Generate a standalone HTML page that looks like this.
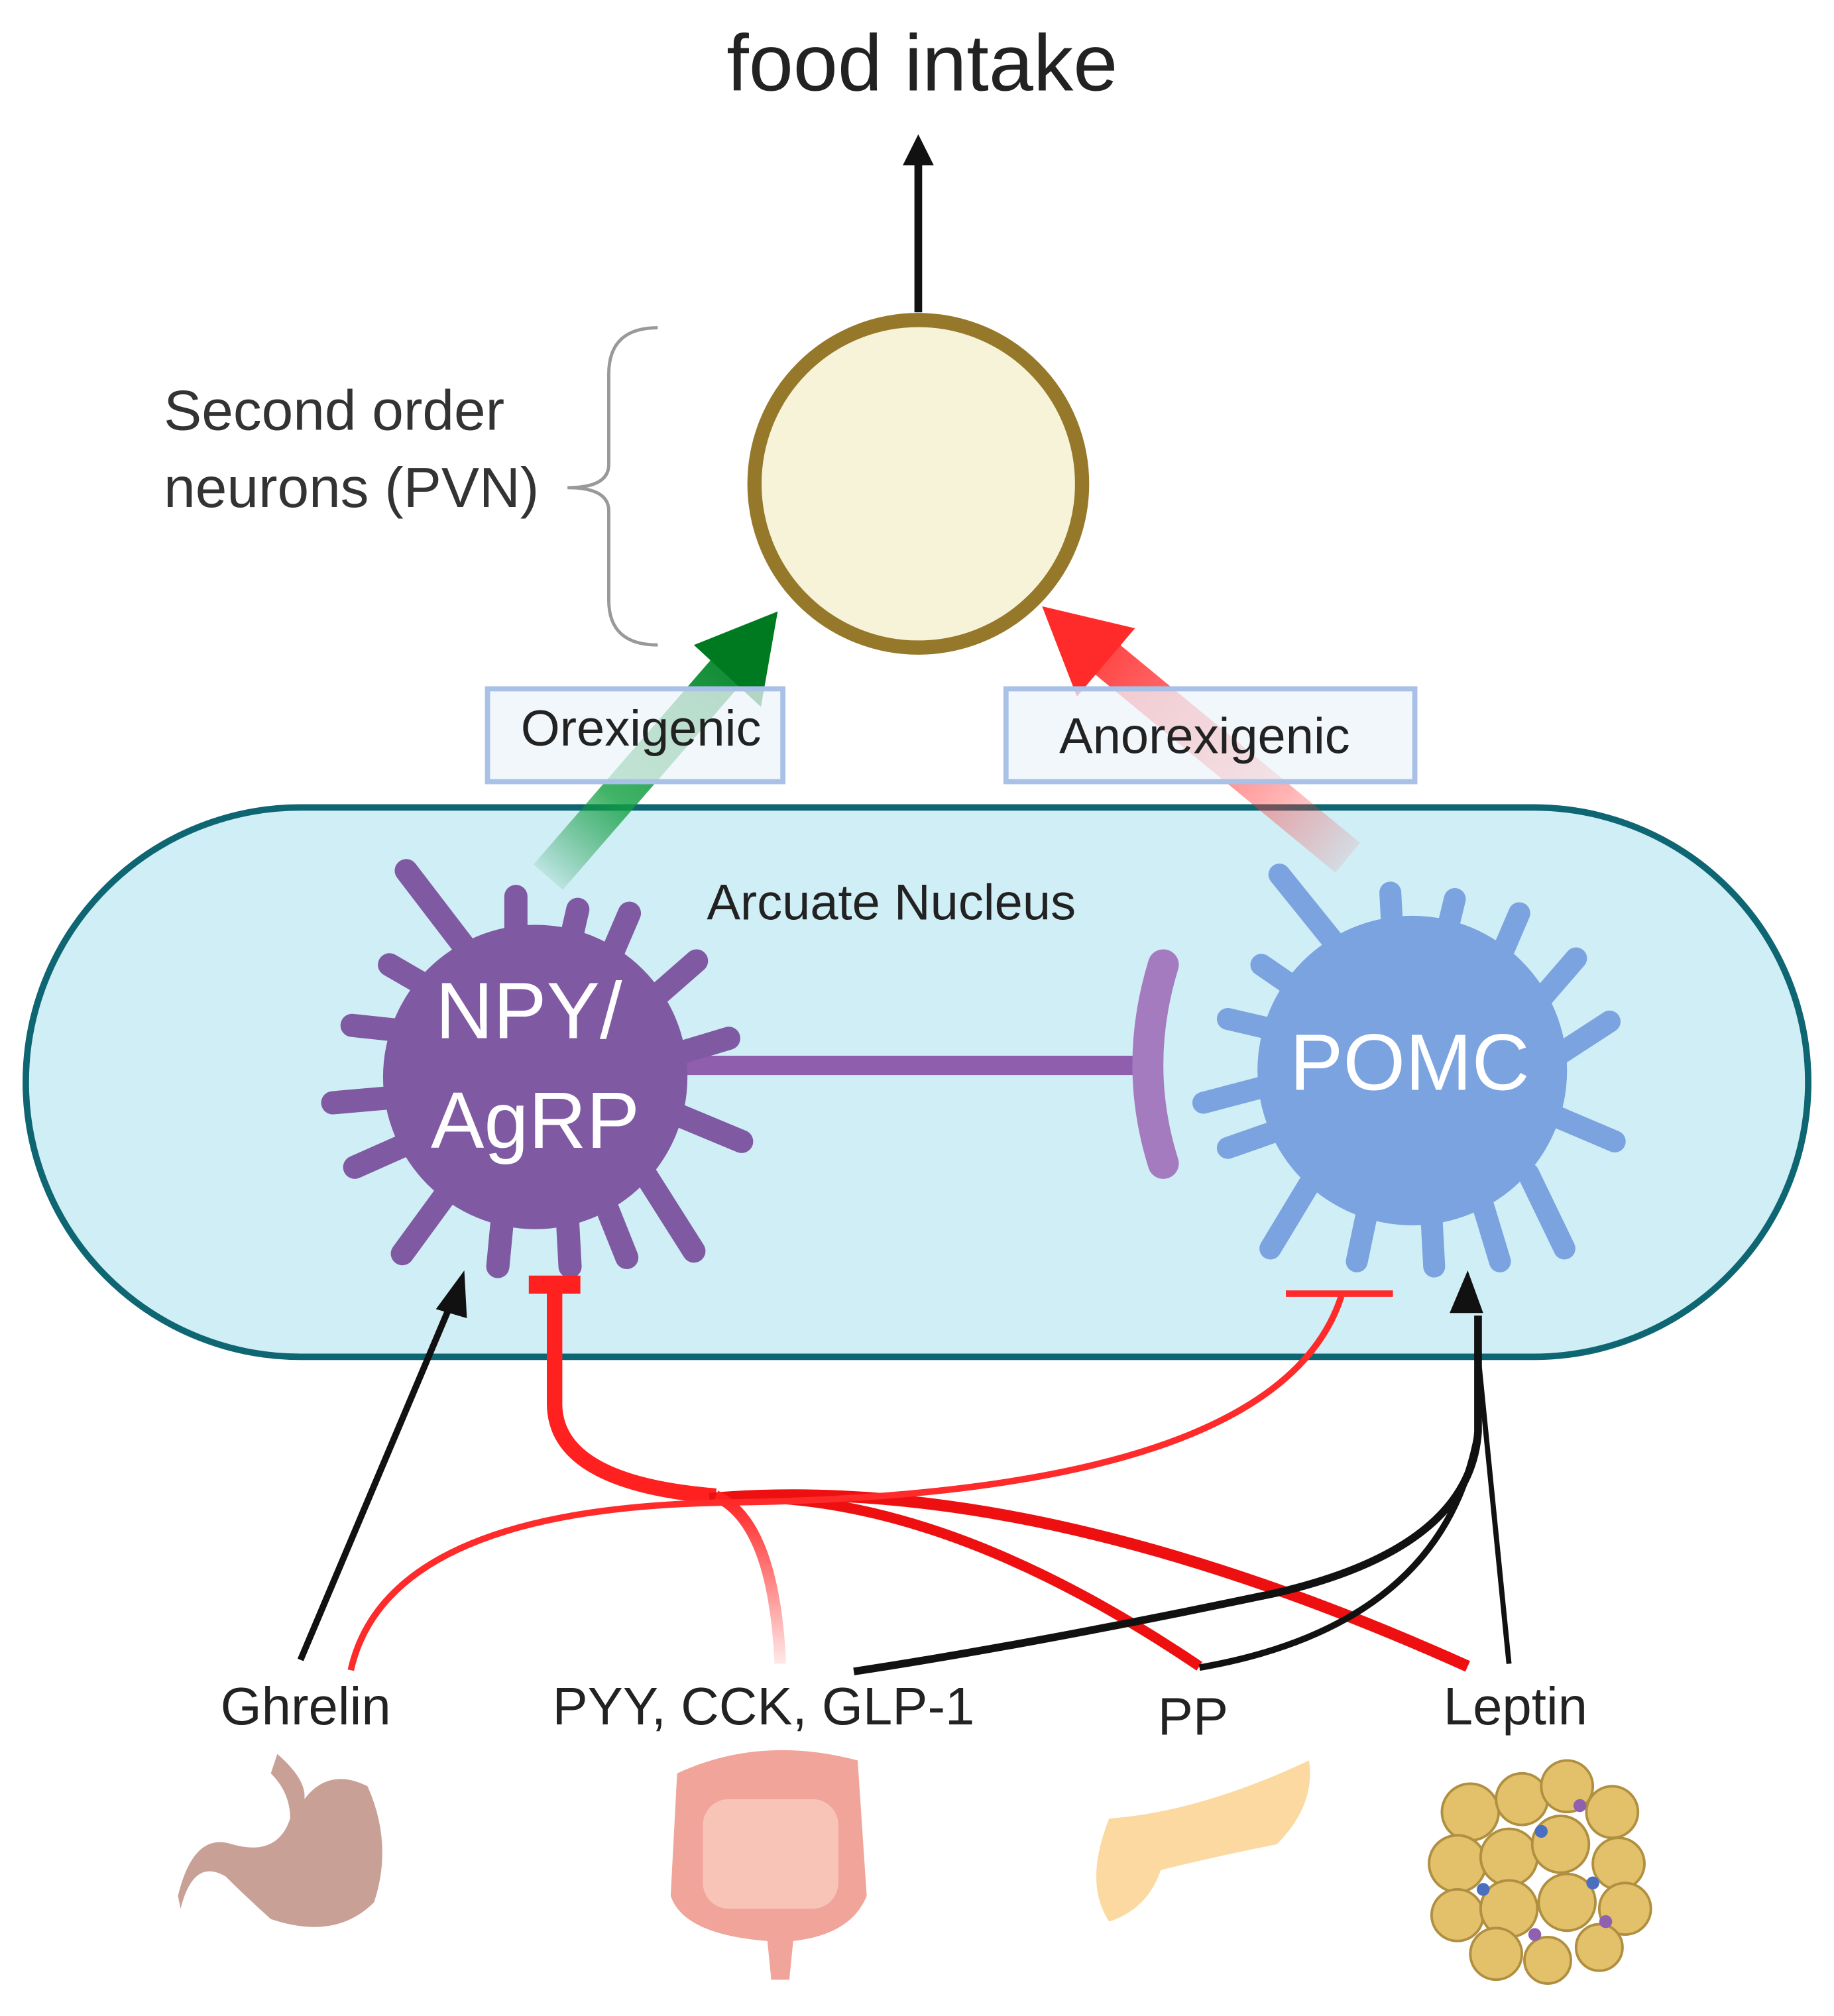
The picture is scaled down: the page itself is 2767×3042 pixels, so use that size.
<!DOCTYPE html>
<html><head><meta charset="utf-8"><style>
html,body{margin:0;padding:0;background:#fff;}
svg{display:block;}
text{font-family:"Liberation Sans",sans-serif;}
</style></head><body>
<svg width="2767" height="3042" viewBox="0 0 1422 1563" xmlns="http://www.w3.org/2000/svg">
<defs>
<linearGradient id="gg" x1="425" y1="680" x2="600" y2="478" gradientUnits="userSpaceOnUse">
<stop offset="0" stop-color="#008a2a" stop-opacity="0.1"/><stop offset="0.3" stop-color="#10a040" stop-opacity="0.8"/><stop offset="1" stop-color="#007a20"/></linearGradient>
<linearGradient id="rg" x1="1045" y1="665" x2="810" y2="470" gradientUnits="userSpaceOnUse">
<stop offset="0" stop-color="#ff3030" stop-opacity="0.1"/><stop offset="0.4" stop-color="#ff4040" stop-opacity="0.6"/><stop offset="1" stop-color="#ff2020"/></linearGradient>
<linearGradient id="fadeR" x1="0" y1="1160" x2="0" y2="1290" gradientUnits="userSpaceOnUse">
<stop offset="0" stop-color="#ff2020"/><stop offset="1" stop-color="#ff2020" stop-opacity="0.1"/></linearGradient>
</defs>

<text x="715" y="70" font-size="62" text-anchor="middle" fill="#222">food intake</text>
<line x1="712" y1="242" x2="712" y2="125" stroke="#111" stroke-width="6"/>
<polygon points="712,104 700,128 724,128" fill="#111"/>

<circle cx="712" cy="375" r="127" fill="#f7f3d8" stroke="#96782a" stroke-width="11"/>

<path d="M510,254 Q472,254 472,290 L472,360 Q472,378 440,378 Q472,378 472,396 L472,465 Q472,500 510,500" fill="none" stroke="#999" stroke-width="2.5"/>
<text x="127" y="333" font-size="44" fill="#333">Second order</text>
<text x="127" y="393" font-size="44" fill="#333">neurons (PVN)</text>

<rect x="20" y="626" width="1382" height="426" rx="213" ry="213" fill="#d0eef6" stroke="#0e6672" stroke-width="5"/>

<line x1="425" y1="680" x2="568" y2="515" stroke="url(#gg)" stroke-width="30"/>
<polygon points="603,474 538,500 590,548" fill="#007a20"/>
<line x1="1045" y1="665" x2="845" y2="500" stroke="url(#rg)" stroke-width="30"/>
<polygon points="808,470 880,487 835,540" fill="#ff2a2a"/>

<rect x="378" y="534" width="229" height="72" fill="#eef4fb" fill-opacity="0.75" stroke="#a9c1e6" stroke-width="4"/>
<text x="497" y="578" font-size="39" text-anchor="middle" fill="#222">Orexigenic</text>
<rect x="780" y="534" width="317" height="72" fill="#eef4fb" fill-opacity="0.75" stroke="#a9c1e6" stroke-width="4"/>
<text x="934" y="584" font-size="39" text-anchor="middle" fill="#222">Anorexigenic</text>

<text x="548" y="713" font-size="39" fill="#222">Arcuate Nucleus</text>

<line x1="530" y1="826" x2="880" y2="826" stroke="#8f5fae" stroke-width="15"/>
<path d="M902,748 Q878,826 902,902" fill="none" stroke="#a57bbf" stroke-width="24" stroke-linecap="round"/>

<g fill="#7f5aa2">
<circle cx="415" cy="835" r="118"/>
<g stroke="#7f5aa2" stroke-width="18" stroke-linecap="round">
<line x1="380" y1="760" x2="315" y2="675"/>
<line x1="400" y1="740" x2="400" y2="695"/>
<line x1="440" y1="740" x2="448" y2="705"/>
<line x1="470" y1="750" x2="488" y2="708"/>
<line x1="500" y1="780" x2="540" y2="745"/>
<line x1="515" y1="820" x2="565" y2="805"/>
<line x1="515" y1="860" x2="575" y2="885"/>
<line x1="500" y1="910" x2="538" y2="970"/>
<line x1="470" y1="935" x2="486" y2="975"/>
<line x1="440" y1="945" x2="442" y2="982"/>
<line x1="390" y1="940" x2="386" y2="982"/>
<line x1="350" y1="920" x2="312" y2="972"/>
<line x1="320" y1="885" x2="275" y2="905"/>
<line x1="315" y1="850" x2="258" y2="855"/>
<line x1="320" y1="800" x2="273" y2="795"/>
<line x1="340" y1="770" x2="302" y2="748"/>
</g></g>
<text x="410" y="805" font-size="62" text-anchor="middle" fill="#fff">NPY/</text>
<text x="415" y="890" font-size="62" text-anchor="middle" fill="#fff">AgRP</text>

<g fill="#7aa3e0">
<circle cx="1095" cy="830" r="120"/>
<g stroke="#7aa3e0" stroke-width="17" stroke-linecap="round">
<line x1="1050" y1="750" x2="992" y2="678"/>
<line x1="1080" y1="730" x2="1078" y2="692"/>
<line x1="1120" y1="730" x2="1128" y2="697"/>
<line x1="1160" y1="750" x2="1178" y2="708"/>
<line x1="1190" y1="780" x2="1222" y2="743"/>
<line x1="1205" y1="820" x2="1248" y2="792"/>
<line x1="1205" y1="865" x2="1252" y2="885"/>
<line x1="1185" y1="910" x2="1213" y2="968"/>
<line x1="1150" y1="935" x2="1163" y2="978"/>
<line x1="1110" y1="945" x2="1112" y2="982"/>
<line x1="1060" y1="940" x2="1052" y2="978"/>
<line x1="1020" y1="910" x2="985" y2="968"/>
<line x1="995" y1="875" x2="952" y2="890"/>
<line x1="990" y1="840" x2="933" y2="855"/>
<line x1="995" y1="800" x2="952" y2="790"/>
<line x1="1010" y1="770" x2="978" y2="748"/>
</g></g>
<text x="1093" y="845" font-size="62" text-anchor="middle" fill="#fff">POMC</text>

<rect x="410" y="989" width="40" height="14" fill="#ff2020"/>
<path d="M430,1000 L430,1090 Q432,1150 555,1160" fill="none" stroke="#ff2020" stroke-width="12"/>
<path d="M550,1162 Q720,1150 930,1292" fill="none" stroke="#ee1010" stroke-width="8"/>
<path d="M550,1162 Q800,1140 1138,1292" fill="none" stroke="#ee1010" stroke-width="9"/>
<path d="M555,1160 Q600,1180 605,1290" fill="none" stroke="url(#fadeR)" stroke-width="9"/>
<path d="M272,1295 Q300,1170 560,1165 Q990,1160 1040,1005" fill="none" stroke="#ff2a2a" stroke-width="5"/>
<line x1="997" y1="1003" x2="1080" y2="1003" stroke="#ff2a2a" stroke-width="5"/>

<line x1="233" y1="1287" x2="350" y2="1010" stroke="#111" stroke-width="5"/>
<polygon points="360,985 338,1015 362,1022" fill="#111"/>
<path d="M1170,1290 L1146,1050" fill="none" stroke="#111" stroke-width="4"/>
<polygon points="1138,985 1124,1018 1150,1018" fill="#111"/>
<path d="M1146,1020 L1146,1110 Q1140,1200 990,1235 Q800,1275 662,1296" fill="none" stroke="#111" stroke-width="6"/>
<path d="M1146,1110 Q1120,1260 930,1293" fill="none" stroke="#111" stroke-width="5"/>

<text x="237" y="1337" font-size="41" text-anchor="middle" fill="#222">Ghrelin</text>
<text x="592" y="1337" font-size="41" text-anchor="middle" fill="#222">PYY, CCK, GLP-1</text>
<text x="925" y="1345" font-size="41" text-anchor="middle" fill="#222">PP</text>
<text x="1175" y="1337" font-size="41" text-anchor="middle" fill="#222">Leptin</text>

<path d="M215,1360 Q238,1380 236,1395 Q255,1370 285,1385 Q305,1430 290,1475 Q260,1505 210,1488 Q190,1470 175,1455 Q150,1440 140,1480 L138,1470 Q150,1420 180,1430 Q215,1440 225,1410 Q225,1390 210,1375 Z" fill="#c9a096"/>
<path d="M525,1375 Q590,1345 665,1365 L672,1470 Q660,1500 615,1505 L612,1535 L598,1535 L595,1505 Q530,1500 520,1470 Z" fill="#f0a49a"/>
<rect x="545" y="1395" width="105" height="85" rx="20" fill="#f9c4b8"/>
<path d="M860,1410 Q930,1405 1015,1365 Q1020,1400 990,1430 Q940,1440 900,1450 Q890,1480 860,1490 Q840,1460 860,1410 Z" fill="#fbd9a0"/>
<g fill="#e2c16a" stroke="#b09040" stroke-width="2">
<circle cx="1140" cy="1405" r="22"/><circle cx="1180" cy="1395" r="20"/><circle cx="1215" cy="1385" r="20"/><circle cx="1250" cy="1405" r="20"/>
<circle cx="1130" cy="1445" r="22"/><circle cx="1170" cy="1440" r="22"/><circle cx="1210" cy="1430" r="22"/><circle cx="1255" cy="1445" r="20"/>
<circle cx="1130" cy="1485" r="20"/><circle cx="1170" cy="1480" r="22"/><circle cx="1215" cy="1475" r="22"/><circle cx="1260" cy="1480" r="20"/>
<circle cx="1160" cy="1515" r="20"/><circle cx="1200" cy="1520" r="18"/><circle cx="1240" cy="1510" r="18"/>
</g>
<g fill="#4a6ec0"><circle cx="1195" cy="1420" r="5"/><circle cx="1150" cy="1465" r="5"/><circle cx="1235" cy="1460" r="5"/></g>
<g fill="#9060b0"><circle cx="1225" cy="1400" r="5"/><circle cx="1190" cy="1500" r="5"/><circle cx="1245" cy="1490" r="5"/></g>
</svg>
</body></html>
